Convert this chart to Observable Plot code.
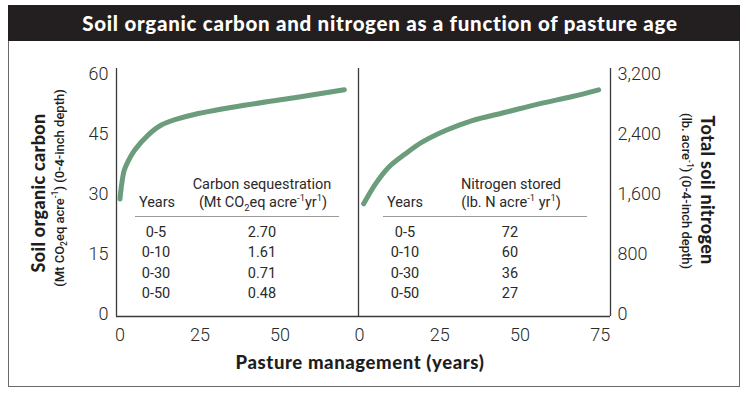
<!DOCTYPE html>
<html><head><meta charset="utf-8">
<script src="https://cdn.jsdelivr.net/npm/d3@7"></script>
<script src="https://cdn.jsdelivr.net/npm/@observablehq/plot@0.6"></script>
<style>
body{margin:0;background:#fff;}
#wrap{position:relative;width:750px;height:396px;overflow:hidden;background:#fff;}
#wrap svg{position:absolute;left:0;top:0;}
.frame{position:absolute;left:7.5px;top:4.5px;width:732px;height:382px;border:1.5px solid #6a6a6a;box-sizing:border-box;}
.bar{position:absolute;left:7.5px;top:4.5px;width:732px;height:36px;background:#231f20;}
.title{position:absolute;left:0;top:4.5px;width:760px;height:36px;line-height:36px;text-align:center;color:#fff;font-family:Lato,sans-serif;font-weight:900;font-size:20.5px;letter-spacing:0.72px;white-space:nowrap;}
.t{position:absolute;transform:translate(-50%,-50%);white-space:nowrap;font-family:Roboto,sans-serif;color:#2a2a2a;line-height:1;}
.tab{font-size:14.5px;font-weight:400;}
.rot{position:absolute;white-space:nowrap;line-height:1;color:#1e1e1e;}
.big{font-family:Lato,sans-serif;font-weight:900;font-size:18px;letter-spacing:0.3px;}
.xt{font-family:Lato,sans-serif;font-weight:900;font-size:18.5px;letter-spacing:0.6px;}
.sub{font-family:Roboto,sans-serif;font-weight:500;font-size:13px;}
sup,sub{font-size:0.65em;line-height:0;}
.rule{position:absolute;height:0;border-top:1.6px solid #9a9a9a;}
</style></head>
<body><div id="wrap">
<div class="frame"></div>
<div class="bar"></div>
<div class="title">Soil organic carbon and nitrogen as a function of pasture age</div>
</div>
<script>
// ---- data ----
const carbonYears = [0, 0.4, 1.3, 2.4, 4.5, 8.7, 12.8, 18, 23.2, 38.8, 54.5, 70.1];
const carbonSOC   = [28.9, 31.8, 36, 38.1, 41, 44.8, 47.3, 48.9, 50, 52.3, 54.2, 56.2];
const nitroYears  = [1.3, 5.0, 9.1, 14.3, 19.5, 26.8, 35.1, 45.5, 55.9, 66.3, 74.5];
const nitroTotal  = [1476, 1742, 1964, 2142, 2297, 2453, 2586, 2697, 2809, 2906, 2995];
const carbonTicks = [0, 15, 30, 45, 60];
const nitroTicks  = [0, 800, 1600, 2400, 3200];
const xTicksLeft  = [0, 25, 50];
const xTicksRight = [0, 25, 50, 75];
const periods = ["0-5", "0-10", "0-30", "0-50"];
const carbonSeq = [2.70, 1.61, 0.71, 0.48];
const nitrogenStored = [72, 60, 36, 27];

const green = "#6b9c7c";
const axisColor = "#3a3a3a";
const wrap = document.getElementById("wrap");

const carbonData = carbonYears.map((x, i) => ({x, y: carbonSOC[i]}));
const nitroData = nitroYears.map((x, i) => ({x, y: nitroTotal[i]}));

const baseStyle = {background: "transparent", fontFamily: "Roboto, sans-serif", fontSize: "18px", fontWeight: 300, color: "#2a2a2a", overflow: "visible"};

const xDomC = [-1.09, 74.53];
const yDomC = [-0.5, 61.5];
const plotC = Plot.plot({
  width: 750, height: 396,
  marginLeft: 116, marginRight: 392, marginTop: 68, marginBottom: 80,
  style: baseStyle,
  x: {domain: xDomC, ticks: xTicksLeft, tickSize: 0, tickPadding: 12, label: null},
  y: {domain: yDomC, ticks: carbonTicks, tickSize: 0, tickPadding: 8, label: null},
  marks: [
    Plot.ruleX(xDomC, {stroke: axisColor, strokeWidth: 1.3}),
    Plot.ruleY([yDomC[0]], {stroke: axisColor, strokeWidth: 1.3}),
    Plot.line(carbonData, {x: "x", y: "y", curve: "catmull-rom", stroke: green, strokeWidth: 5, strokeLinecap: "round"})
  ]
});
wrap.appendChild(plotC);

const xDomN = [-0.31, 78.2];
const yDomN = [-26.67, 3280];
const plotN = Plot.plot({
  width: 750, height: 396,
  marginLeft: 358, marginRight: 140, marginTop: 68, marginBottom: 80,
  style: baseStyle,
  x: {domain: xDomN, ticks: xTicksRight, tickSize: 0, tickPadding: 12, label: null},
  y: {domain: yDomN, ticks: nitroTicks, tickSize: 0, tickPadding: 7, label: null, axis: "right", tickFormat: d3.format(",")},
  marks: [
    Plot.ruleX([xDomN[1]], {stroke: axisColor, strokeWidth: 1.3}),
    Plot.ruleY([yDomN[0]], {stroke: axisColor, strokeWidth: 1.3}),
    Plot.line(nitroData, {x: "x", y: "y", curve: "catmull-rom", stroke: green, strokeWidth: 5, strokeLinecap: "round"})
  ]
});
wrap.appendChild(plotN);

// ---- text helpers ----
function addText(html, cx, cy, cls) {
  const d = document.createElement("div");
  d.className = "t " + cls;
  d.innerHTML = html;
  d.style.left = cx + "px";
  d.style.top = cy + "px";
  wrap.appendChild(d);
}
function addRot(html, cx, cy, deg, cls) {
  const d = document.createElement("div");
  d.className = "rot " + cls;
  d.innerHTML = html;
  d.style.left = cx + "px";
  d.style.top = cy + "px";
  d.style.transform = `translate(-50%,-50%) rotate(${deg}deg)`;
  wrap.appendChild(d);
}
function addRule(x1, x2, y) {
  const d = document.createElement("div");
  d.className = "rule";
  d.style.left = x1 + "px";
  d.style.width = (x2 - x1) + "px";
  d.style.top = y + "px";
  wrap.appendChild(d);
}

// axis titles
addRot("Soil organic carbon", 38, 193, -90, "big");
addRot("(Mt CO<sub>2</sub>eq acre<sup>-1</sup>) (0-4-inch depth)", 59, 188, -90, "sub");
addRot("Total soil nitrogen", 708, 190, 90, "big");
addRot("(lb. acre<sup>-1</sup>) (0-4-inch depth)", 686, 191, 90, "sub");
addRot("Pasture management (years)", 360, 362, 0, "xt");

// tables
addText("Carbon sequestration", 262, 185, "tab");
addText("Years", 157, 203, "tab");
addText("(Mt CO<sub>2</sub>eq acre<sup>-1</sup>yr<sup>1</sup>)", 263, 203, "tab");
addRule(135, 339, 216);
addText("Nitrogen stored", 511, 185, "tab");
addText("Years", 405, 203, "tab");
addText("(lb. N acre<sup>-1</sup> yr<sup>1</sup>)", 511, 203, "tab");
addRule(383, 587, 216);
periods.forEach((p, i) => {
  const y = 233 + i * 20.3;
  addText(p, 156, y, "tab");
  addText(carbonSeq[i].toFixed(2), 262, y, "tab");
  addText(p, 405, y, "tab");
  addText(String(nitrogenStored[i]), 510, y, "tab");
});
</script>
</body></html>
